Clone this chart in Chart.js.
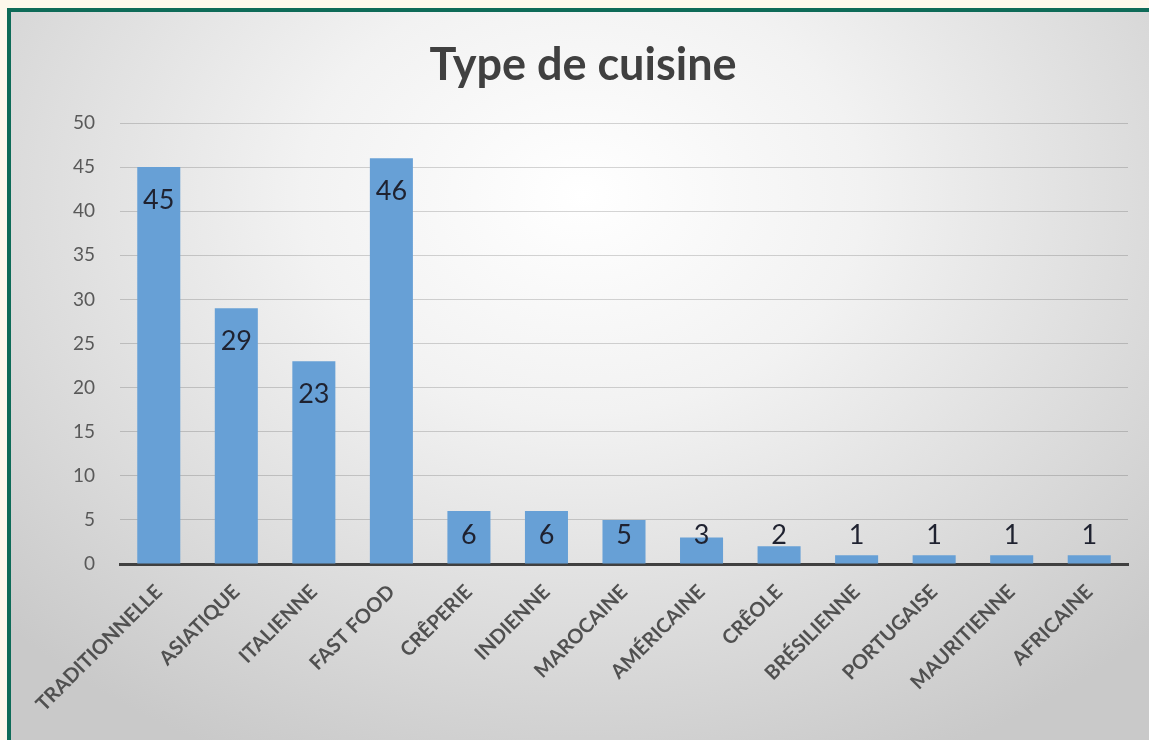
<!DOCTYPE html>
<html>
<head>
<meta charset="utf-8">
<script src="https://cdn.jsdelivr.net/npm/chart.js@4"></script>
<style>
  html, body { margin: 0; padding: 0; background: #fdf8ec; overflow: hidden; }
  #frame {
    position: absolute; left: 7px; top: 8px; width: 1142px; height: 732px;
    border-left: 4px solid #0e6b58; border-top: 4px solid #0e6b58;
    background: radial-gradient(ellipse 70% 85% at 50% 25%, #ffffff 0%, #f2f2f2 35%, #dcdcdc 70%, #c9c9c9 100%);
  }
  #wrap { position: absolute; left: 0; top: 0; width: 1138px; height: 728px; }
</style>
</head>
<body>
<div id="frame"><div id="wrap"><canvas id="cuisine"></canvas></div></div>
<script>
const categories = ['TRADITIONNELLE', 'ASIATIQUE', 'ITALIENNE', 'FAST FOOD', 'CRÊPERIE', 'INDIENNE',
  'MAROCAINE', 'AMÉRICAINE', 'CRÊOLE', 'BRÉSILIENNE', 'PORTUGAISE', 'MAURITIENNE', 'AFRICAINE'];
const counts = [45, 29, 23, 46, 6, 6, 5, 3, 2, 1, 1, 1, 1];
const yTicks = [0, 5, 10, 15, 20, 25, 30, 35, 40, 45, 50];

// value labels at the inside end of each bar, pushed up when the bar is short
const valueLabels = {
  id: 'valueLabels',
  afterDatasetsDraw(chart) {
    const ctx = chart.ctx;
    const meta = chart.getDatasetMeta(0);
    ctx.save();
    ctx.font = '27px Lato';
    ctx.fillStyle = '#1f2230';
    ctx.textAlign = 'center';
    ctx.textBaseline = 'middle';
    meta.data.forEach((bar, i) => {
      const y = Math.min(bar.y + 33, bar.base - 28);
      ctx.fillText(String(counts[i]), bar.x, y);
    });
    ctx.restore();
  }
};

const ctx = document.getElementById('cuisine').getContext('2d');
new Chart(ctx, {
  type: 'bar',
  data: {
    labels: categories,
    datasets: [{
      data: counts,
      backgroundColor: '#67a0d6',
      barPercentage: 1,
      categoryPercentage: 0.555
    }]
  },
  options: {
    responsive: true,
    maintainAspectRatio: false,
    animation: false,
    layout: { padding: { left: 14, right: 8, top: 0, bottom: 0 } },
    plugins: {
      legend: { display: false },
      tooltip: { enabled: false },
      title: {
        display: true,
        text: 'Type de cuisine',
        color: '#404040',
        font: { family: 'Lato', size: 45, weight: 'bold' },
        padding: { top: 26, bottom: 31 }
      }
    },
    scales: {
      x: {
        grid: { display: false, drawTicks: false },
        border: { color: '#404040', width: 3 },
        ticks: {
          color: '#505050',
          font: { family: 'Lato', size: 20, weight: 'bold' },
          minRotation: 45,
          maxRotation: 45,
          padding: 16,
          autoSkip: false
        },
        afterFit(scale) { scale.height = 176; }
      },
      y: {
        min: 0,
        max: 50,
        afterBuildTicks(scale) { scale.ticks = yTicks.map(v => ({ value: v })); },
        grid: { color: 'rgba(0,0,0,0.16)', lineWidth: 1, drawTicks: false },
        border: { display: false },
        ticks: {
          color: '#595959',
          font: { family: 'Lato', size: 19 },
          padding: 25
        },
        afterFit(scale) { scale.width = 95; }
      },
      // empty right-hand gutter so the title sits where it does in the original
      yRight: {
        position: 'right',
        min: 0,
        max: 50,
        grid: { display: false, drawTicks: false },
        border: { display: false },
        ticks: { display: false },
        afterFit(scale) { scale.width = 13; }
      }
    }
  },
  plugins: [valueLabels]
});
</script>
</body>
</html>
